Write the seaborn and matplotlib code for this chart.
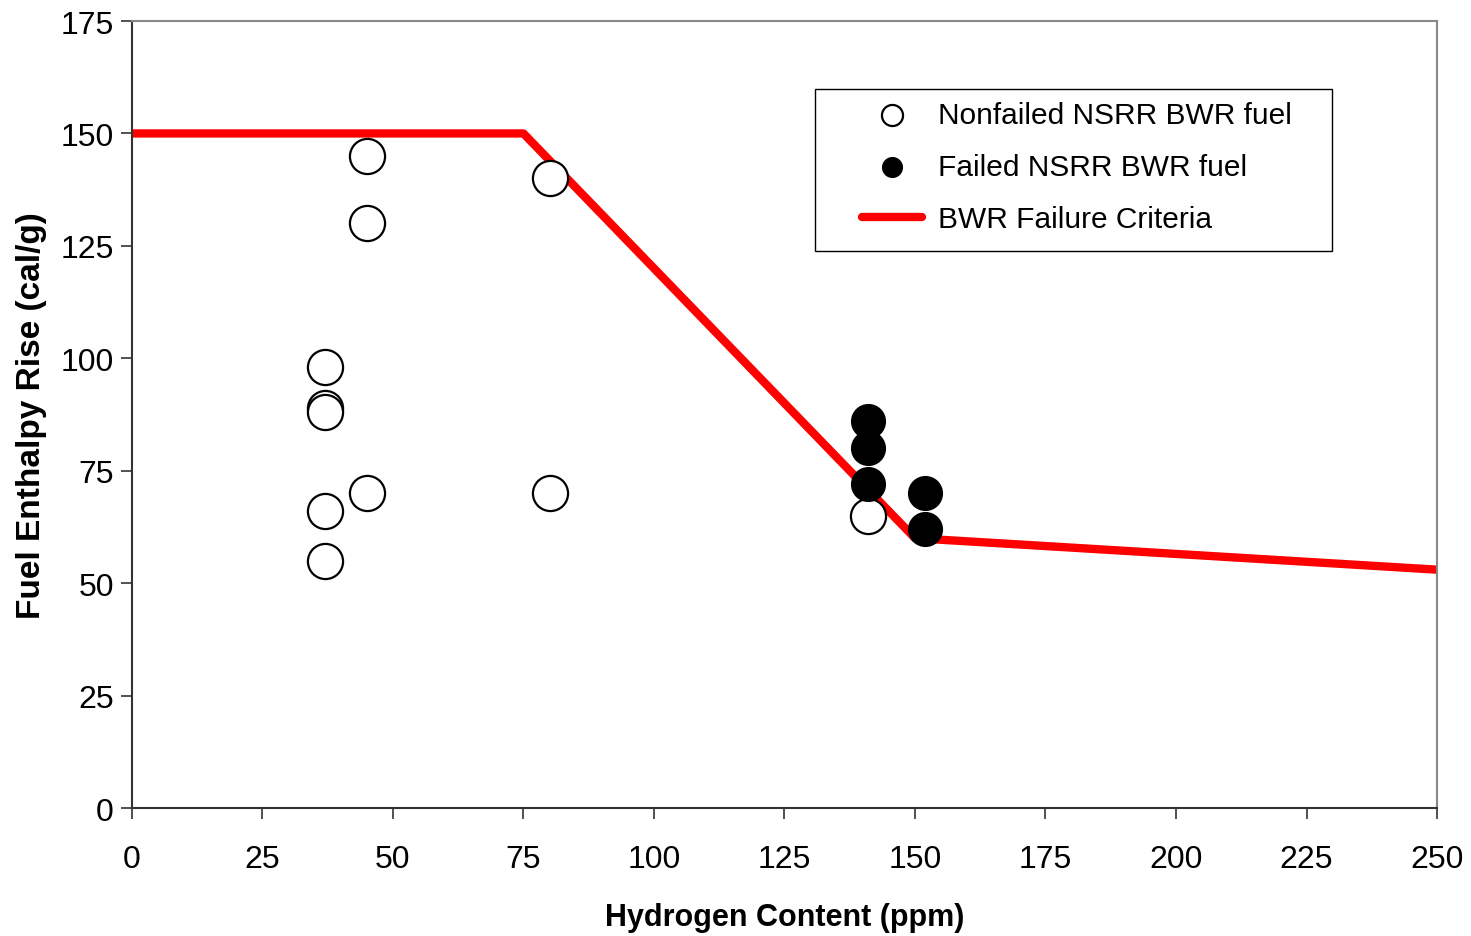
import numpy as np
import pandas as pd
import seaborn as sns
import matplotlib.pyplot as plt
from matplotlib.patches import Rectangle

# data
nonfailed_h2 = [37, 37, 37, 37, 37, 45, 45, 45, 80, 80, 141]
nonfailed_enth = [98, 89, 88, 66, 55, 145, 130, 70, 140, 70, 65]

failed_h2 = [141, 141, 141, 152, 152]
failed_enth = [86, 80, 72, 70, 62]

crit_h2 = [0, 75, 150, 250]
crit_enth = [150, 150, 60, 53]

xticks = np.arange(0, 251, 25)
yticks = np.arange(0, 176, 25)

sns.set_style("ticks", {"text.color": "black", "xtick.color": "black",
                        "ytick.color": "black", "axes.labelcolor": "black"})
plt.rcParams['font.family'] = ['Liberation Sans', 'DejaVu Sans']

fig = plt.figure(figsize=(14.71, 9.37), dpi=100)
ax = fig.add_axes([0.0897, 0.1366, 0.8872, 0.8399])

nonfailed = pd.DataFrame({"h2": nonfailed_h2, "enth": nonfailed_enth})
failed = pd.DataFrame({"h2": failed_h2, "enth": failed_enth})
crit = pd.DataFrame({"h2": crit_h2, "enth": crit_enth})

sns.lineplot(data=crit, x="h2", y="enth", ax=ax, color="#ff0000", lw=6,
             solid_capstyle="round", label="BWR Failure Criteria", zorder=2)
sns.scatterplot(data=nonfailed, x="h2", y="enth", ax=ax, s=640, facecolor="white",
                edgecolor="black", linewidth=1.6, label="Nonfailed NSRR BWR fuel", zorder=3)
sns.scatterplot(data=failed, x="h2", y="enth", ax=ax, s=640, color="black",
                edgecolor="black", linewidth=0, label="Failed NSRR BWR fuel", zorder=4)

ax.set_xlim(0, 250)
ax.set_ylim(0, 175)
ax.set_xticks(xticks)
ax.set_yticks(yticks)
ax.tick_params(axis="both", labelsize=23, length=8, width=1.2, color="#333333")
ax.tick_params(axis="x", pad=18)
ax.tick_params(axis="y", pad=5)
ax.set_xlabel("Hydrogen Content (ppm)", fontsize=22, fontweight="bold", labelpad=20)
ax.set_ylabel("Fuel Enthalpy Rise (cal/g)", fontsize=24, fontweight="bold", labelpad=10)

for side in ["top", "right"]:
    ax.spines[side].set_visible(True)
    ax.spines[side].set_color("#888888")
    ax.spines[side].set_linewidth(1.5)
for side in ["left", "bottom"]:
    ax.spines[side].set_color("#333333")
    ax.spines[side].set_linewidth(1.5)

# legend box drawn separately so the padding can be wide on the sides
ax.add_patch(Rectangle((0.5234, 0.7078), 0.3962, 0.2058, transform=ax.transAxes,
                       facecolor="white", edgecolor="black", lw=1.0, zorder=4.5))

handles, labels = ax.get_legend_handles_labels()
order = [labels.index(l) for l in ["Nonfailed NSRR BWR fuel", "Failed NSRR BWR fuel", "BWR Failure Criteria"]]
leg = ax.legend([handles[i] for i in order], [labels[i] for i in order],
                loc="upper left", bbox_to_anchor=(0.5594, 0.898), fontsize=21.5,
                frameon=False, markerscale=0.6, handlelength=2.0, handletextpad=0.53,
                borderpad=0, labelspacing=0.8, borderaxespad=0)
leg.set_zorder(6)

fig.savefig("out.png", dpi=100)
